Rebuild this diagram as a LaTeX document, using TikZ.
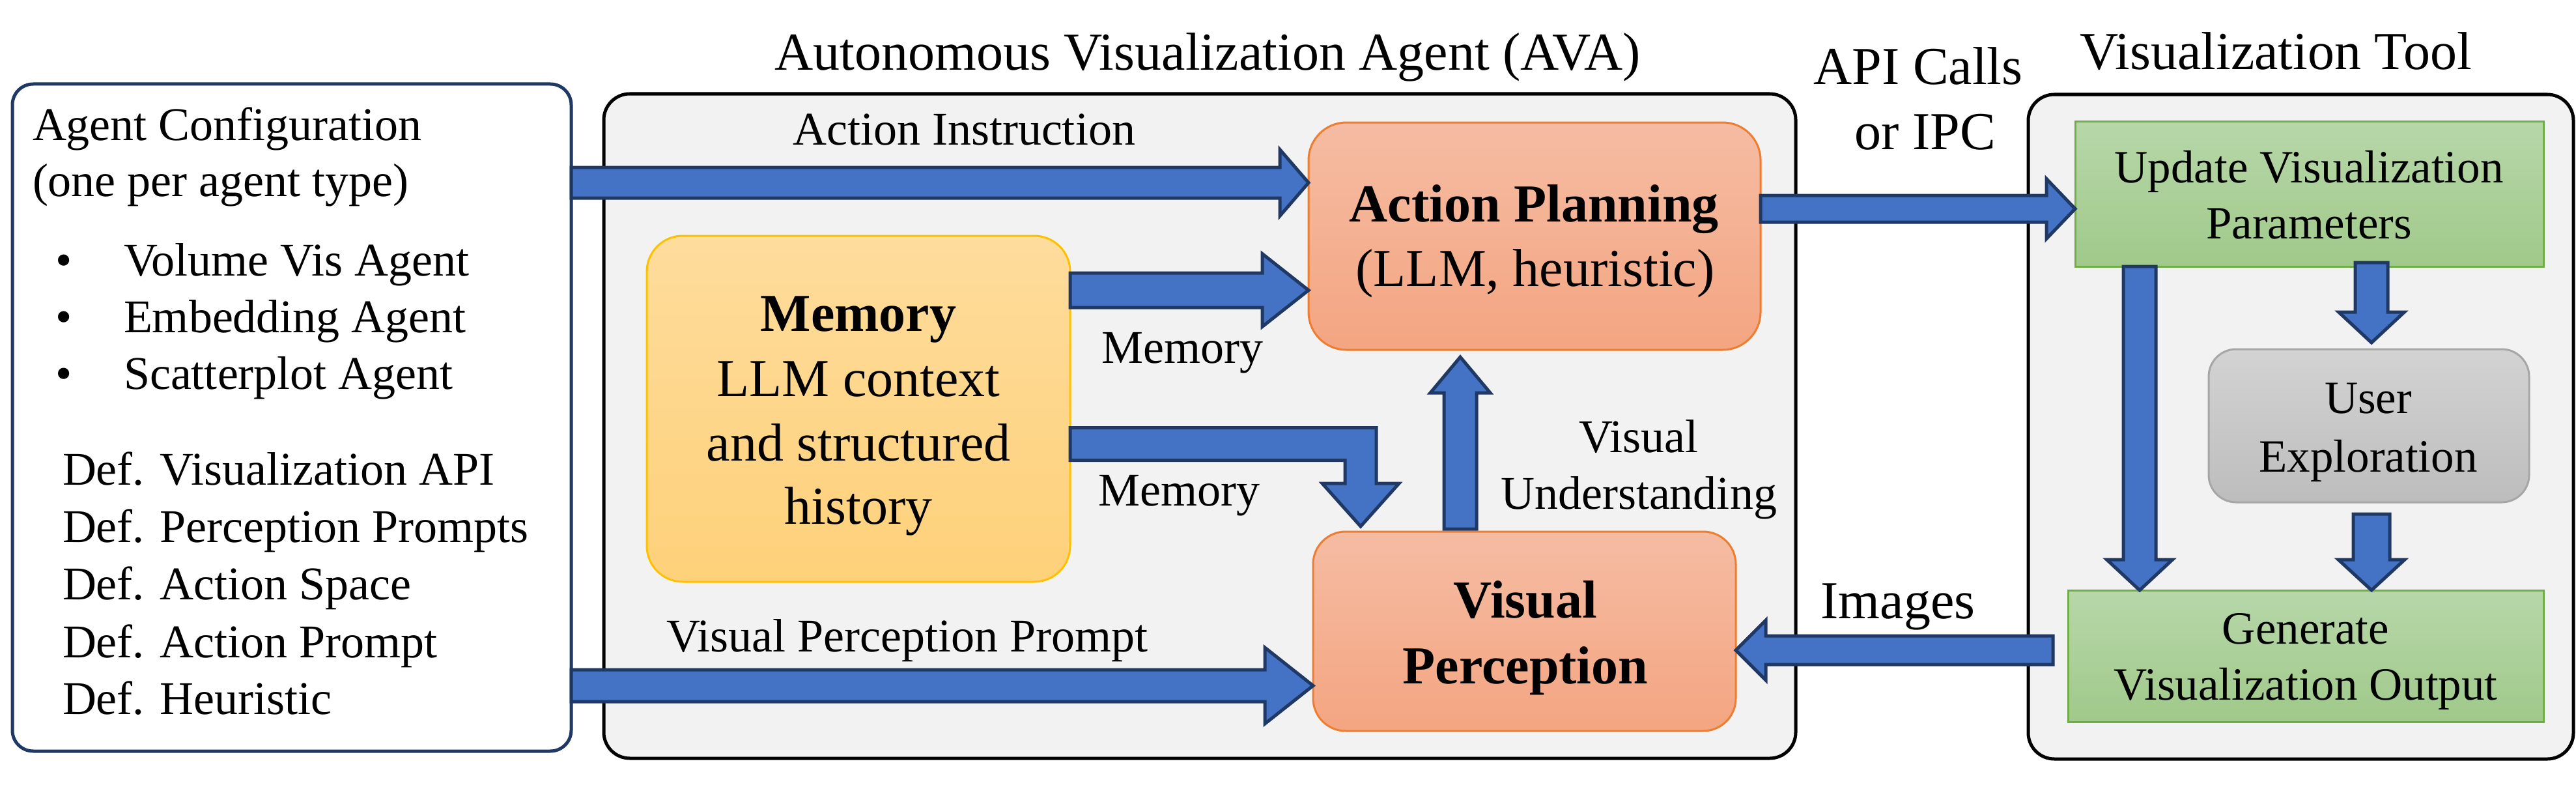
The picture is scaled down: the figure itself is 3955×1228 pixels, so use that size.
\documentclass[tikz,border=0pt]{standalone}
\usepackage{fontspec}
\setmainfont{Liberation Serif}
\usetikzlibrary{calc}
\definecolor{arrfill}{HTML}{4472C4}
\definecolor{arrline}{HTML}{1F3864}
\definecolor{panelfill}{HTML}{F2F2F2}
\definecolor{cfgline}{HTML}{203864}
\definecolor{salmontop}{HTML}{F5BCA3}
\definecolor{salmonbot}{HTML}{F4A581}
\definecolor{salmonline}{HTML}{ED7D31}
\definecolor{memtop}{HTML}{FEDC9C}
\definecolor{membot}{HTML}{FED17A}
\definecolor{memline}{HTML}{FFC000}
\definecolor{greentop}{HTML}{B7D7A9}
\definecolor{greenbot}{HTML}{A0C98A}
\definecolor{greenline}{HTML}{70AD47}
\definecolor{graytop}{HTML}{D3D3D3}
\definecolor{graybot}{HTML}{BDBDBD}
\definecolor{grayline}{HTML}{A6A6A6}
\tikzset{
  barrow/.style={fill=arrfill, draw=arrline, line width=5pt, line join=miter},
  panel/.style={draw=black, fill=panelfill, line width=5pt, rounded corners=40pt, inner sep=0, outer sep=0},
  cfgbox/.style={draw=cfgline, fill=white, line width=5pt, rounded corners=32pt, inner sep=0, outer sep=0},
  salmonbox/.style={draw=salmonline, line width=3pt, top color=salmontop, bottom color=salmonbot, rounded corners=58pt, inner sep=0, outer sep=0},
  membox/.style={draw=memline, line width=3pt, top color=memtop, bottom color=membot, rounded corners=55pt, inner sep=0, outer sep=0},
  greenbox/.style={draw=greenline, line width=3pt, top color=greentop, bottom color=greenbot, inner sep=0, outer sep=0},
  graybox/.style={draw=grayline, line width=3pt, top color=graytop, bottom color=graybot, rounded corners=42pt, inner sep=0, outer sep=0},
  txt/.style={inner sep=0, outer sep=0, anchor=base},
  ltxt/.style={inner sep=0, outer sep=0, anchor=base west},
  cfgfont/.style={font=\fontsize{72}{86}\selectfont},
  lblfont/.style={font=\fontsize{72}{86}\selectfont},
  ttlfont/.style={font=\fontsize{82}{96}\selectfont},
  boxfont/.style={font=\fontsize{82}{96}\selectfont},
  boldfont/.style={font=\fontsize{82}{96}\selectfont\bfseries},
  vtfont/.style={font=\fontsize{71}{86}\selectfont},
}
\newcommand{\ArrR}[5]{\draw[barrow] let \p1=#1, \p2=#2 in (\x1,\y1+#3) -- (\x2-#5,\y1+#3) -- (\x2-#5,\y1+#4) -- (\x2,\y1) -- (\x2-#5,\y1-#4) -- (\x2-#5,\y1-#3) -- (\x1,\y1-#3) -- cycle;}
\newcommand{\ArrL}[5]{\draw[barrow] let \p1=#1, \p2=#2 in (\x1,\y1+#3) -- (\x2+#5,\y1+#3) -- (\x2+#5,\y1+#4) -- (\x2,\y1) -- (\x2+#5,\y1-#4) -- (\x2+#5,\y1-#3) -- (\x1,\y1-#3) -- cycle;}
\newcommand{\ArrD}[5]{\draw[barrow] let \p1=#1, \p2=#2 in (\x1-#3,\y1) -- (\x1-#3,\y2+#5) -- (\x1-#4,\y2+#5) -- (\x1,\y2) -- (\x1+#4,\y2+#5) -- (\x1+#3,\y2+#5) -- (\x1+#3,\y1) -- cycle;}
\newcommand{\ArrU}[5]{\draw[barrow] let \p1=#1, \p2=#2 in (\x1-#3,\y1) -- (\x1-#3,\y2-#5) -- (\x1-#4,\y2-#5) -- (\x1,\y2) -- (\x1+#4,\y2-#5) -- (\x1+#3,\y2-#5) -- (\x1+#3,\y1) -- cycle;}
\begin{document}
\begin{tikzpicture}[x=1pt,y=-1pt]
\useasboundingbox[fill=white] (0,0) rectangle (3955,1228);

% panels
\node[cfgbox, minimum width=858pt, minimum height=1024pt] (agent) at (448,641) {};
\node[panel, minimum width=1830pt, minimum height=1020pt] (ava) at (1842,654) {};
\node[panel, minimum width=837pt, minimum height=1020pt] (vt) at (3532.5,655) {};

% titles
\node[txt, ttlfont] (avatitle) at (1854,108) {Autonomous Visualization Agent (AVA)};
\node[txt, ttlfont] (vttitle) at (3494,107) {Visualization Tool};
\node[txt, ttlfont] (api1) at (2945,129) {API Calls};
\node[txt, ttlfont] (api2) at (2956,229) {or IPC};
\node[txt, ttlfont] (imglbl) at (2914,949) {Images};

% agent configuration text
\node[ltxt, cfgfont] (c1) at (50,215) {Agent Configuration};
\node[ltxt, cfgfont] (c2) at (50,301) {(one per agent type)};
\node[txt, cfgfont] (b1) at (98,423) {•};
\node[txt, cfgfont] (b2) at (98,510) {•};
\node[txt, cfgfont] (b3) at (98,597) {•};
\node[ltxt, cfgfont] (c3) at (190,423) {Volume Vis Agent};
\node[ltxt, cfgfont] (c4) at (190,510) {Embedding Agent};
\node[ltxt, cfgfont] (c5) at (190,597) {Scatterplot Agent};
\node[ltxt, cfgfont] (c6) at (96,744) {Def. Visualization API};
\node[ltxt, cfgfont] (c7) at (96,832) {Def. Perception Prompts};
\node[ltxt, cfgfont] (c8) at (96,920) {Def. Action Space};
\node[ltxt, cfgfont] (c9) at (96,1009) {Def. Action Prompt};
\node[ltxt, cfgfont] (c10) at (96,1096) {Def. Heuristic};

% AVA inner boxes
\node[salmonbox, minimum width=694pt, minimum height=349pt] (ap) at (2356,362.5) {};
\node[membox, minimum width=650pt, minimum height=531pt] (mem) at (1318,627.5) {};
\node[salmonbox, rounded corners=50pt, minimum width=649pt, minimum height=306pt] (vp) at (2340.5,969) {};

\node[txt, boldfont] (ap1) at (2355,340) {Action Planning};
\node[txt, boxfont] (ap2) at (2357,439) {(LLM, heuristic)};
\node[txt, boldfont] (m1t) at (1318,508) {Memory};
\node[txt, boxfont] (m2t) at (1318,608) {LLM context};
\node[txt, boxfont] (m3t) at (1318,707) {and structured};
\node[txt, boxfont] (m4t) at (1318,804) {history};
\node[txt, boldfont] (vp1) at (2342,948) {Visual};
\node[txt, boldfont] (vp2) at (2342,1049) {Perception};

% VT inner boxes
\node[greenbox, minimum width=719pt, minimum height=223pt] (upd) at (3545.5,297.5) {};
\node[graybox, minimum width=492pt, minimum height=235pt] (user) at (3637,653.5) {};
\node[greenbox, minimum width=730pt, minimum height=202pt] (gen) at (3540,1007) {};

\node[txt, vtfont] (u1) at (3545,280) {Update Visualization};
\node[txt, vtfont] (u2) at (3545,366) {Parameters};
\node[txt, vtfont] (e1) at (3636,634) {User};
\node[txt, vtfont] (e2) at (3636,724) {Exploration};
\node[txt, vtfont] (g1) at (3540,988) {Generate};
\node[txt, vtfont] (g2) at (3540,1074) {Visualization Output};

% arrow labels
\node[txt, lblfont] (lai) at (1480,222) {Action Instruction};
\node[txt, lblfont] (lm1) at (1815,557) {Memory};
\node[txt, lblfont] (lm2) at (1810,776) {Memory};
\node[txt, lblfont] (lvu1) at (2516,694) {Visual};
\node[txt, lblfont] (lvu2) at (2516,781) {Understanding};
\node[txt, lblfont] (lvpp) at (1393,1000) {Visual Perception Prompt};

% helper coordinates
\coordinate (yai) at (0,280.5);
\coordinate (ym1) at (0,445.5);
\coordinate (ym2) at (0,681.5);
\coordinate (yvpp) at (0,1052.5);
\coordinate (yimg) at (0,998);
\coordinate (yapi) at (0,320.5);
\coordinate (xvu) at (2242,0);
\coordinate (xlg) at (3285,0);
\coordinate (xue) at (3641,0);
\coordinate (xm2) at (2089,0);

% arrows
\ArrR{(agent.east|-yai)}{(ap.west|-yai)}{23.5pt}{51pt}{44pt}
\ArrR{(mem.east|-ym1)}{(ap.west|-ym1)}{26.5pt}{56pt}{71pt}
\draw[barrow] let \p1=(mem.east|-ym2), \p2=($(xm2|-vp.north)+(0,-8)$) in
  (\x1,\y1+25pt) -- (\x2+24pt,\y1+25pt) -- (\x2+24pt,\y2+66pt) -- (\x2+59pt,\y2+66pt) -- (\x2,\y2)
  -- (\x2-59pt,\y2+66pt) -- (\x2-24pt,\y2+66pt) -- (\x2-24pt,\y1-25pt) -- (\x1,\y1-25pt) -- cycle;
\ArrU{($(xvu|-vp.north)+(0,-4)$)}{($(xvu|-ap.south)+(0,11)$)}{25pt}{46pt}{55pt}
\ArrR{(agent.east|-yvpp)}{(vp.west|-yvpp)}{24.5pt}{58.5pt}{74pt}
\ArrL{($(gen.west|-yimg)+(-23,0)$)}{(vp.east|-yimg)}{22pt}{46pt}{46pt}
\ArrR{(ap.east|-yapi)}{(upd.west|-yapi)}{20.5pt}{46pt}{44pt}
\ArrD{(xlg|-upd.south)}{(xlg|-gen.north)}{25pt}{50.5pt}{47pt}
\ArrD{($(xue|-upd.south)+(0,-6)$)}{($(xue|-user.north)+(0,-10)$)}{25pt}{50.5pt}{47pt}
\ArrD{($(xue|-user.south)+(0,18)$)}{(xue|-gen.north)}{28pt}{51pt}{47pt}
\end{tikzpicture}
\end{document}
